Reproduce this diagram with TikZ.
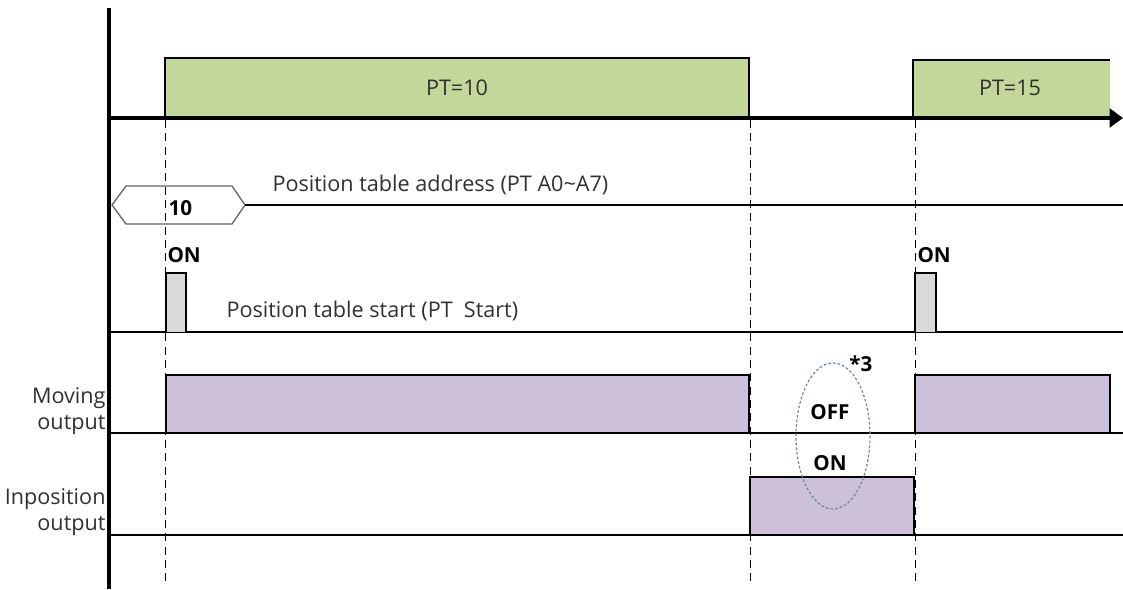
\documentclass[tikz,border=0pt]{standalone}
\usepackage{fontspec}
\setmainfont{Open Sans}
\usetikzlibrary{arrows.meta,positioning}
\definecolor{ptgreen}{HTML}{C4D79B}
\definecolor{outlilac}{HTML}{CCC0DA}
\definecolor{pulsegray}{HTML}{D9D9D9}
\definecolor{notecol}{HTML}{7086A6}
\definecolor{labcol}{HTML}{303030}
\tikzset{
  every picture/.style={line width=0.75pt},
  axisline/.style={line width=2.3pt},
  sigline/.style={line width=1.5pt},
  guide/.style={dashed,line width=0.75pt,dash pattern=on 6pt off 4pt},
  lab/.style={text=labcol,font=\fontsize{16.2}{19.5}\selectfont,inner sep=0pt},
  boldlab/.style={text=black,font=\bfseries\fontsize{15.5}{18}\selectfont,inner sep=0pt}
}

\begin{document}
\begin{tikzpicture}[x=0.75pt,y=-0.75pt]
    \useasboundingbox (0,0) rectangle (1123,589);

    % Position table boxes (PT)
    \fill[ptgreen] (165,58) rectangle (749,118);
    \draw[sigline] (165,118) -- (165,58) -- (749,58) -- (749,118);
    \node[lab] (pt10) at (457,88) {PT=10};
    \fill[ptgreen] (913,60) rectangle (1110,118);
    \draw[sigline] (913,118) -- (913,60) -- (1110,60);
    \node[lab] (pt15) at (1010,88) {PT=15};

    % Axes
    \draw[axisline] (109,8) -- (109,589);
    \draw[axisline,-{Triangle[length=10pt,width=14pt]}] (109,118) -- (1123,118);

    % Guide lines
    \foreach \gx in {165,750,915}
        \draw[guide] (\gx,120) -- (\gx,585);

    % Position table address
    \draw[gray!80!black,line width=1pt] (112,205) -- (126,186) -- (232,186) -- (245,205)
        -- (232,224) -- (126,224) -- cycle;
    \draw[sigline,line width=1pt] (245,205) -- (1123,205);
    \node[boldlab,anchor=west] (addr) at (168,208) {10};
    \node[lab,anchor=west] (addrlab) at (272,185) {Position table address (PT A0\textasciitilde A7)};

    % Position table start
    \draw[sigline] (109,332) -- (1123,332);
    \filldraw[fill=pulsegray,sigline] (166,332) -- (166,273) -- (186,273) -- (186,332);
    \filldraw[fill=pulsegray,sigline] (915,332) -- (915,273) -- (936,273) -- (936,332);
    \node[boldlab,anchor=west] (on1) at (167,255) {ON};
    \node[boldlab,anchor=west] (on2) at (917,255) {ON};
    \node[lab,anchor=west] (startlab) at (226,311) {Position table start (PT~~Start)};

    % Moving output
    \fill[outlilac] (166,375) rectangle (749,433);
    \fill[outlilac] (915,375) rectangle (1110,433);
    \draw[sigline] (166,433) -- (166,375) -- (749,375) -- (749,433);
    \draw[sigline] (915,433) -- (915,375) -- (1110,375) -- (1110,433);
    \draw[sigline] (109,433) -- (1123,433);
    \node[lab,anchor=east,align=right] (movlab) at (106,411) {Moving\\output};

    % Inposition output
    \filldraw[fill=outlilac,sigline] (750,535) -- (750,477) -- (914,477) -- (914,535);
    \draw[sigline] (109,535) -- (1123,535);
    \node[lab,anchor=east,align=right] (inplab) at (106,512) {Inposition\\output};

    % Note *3
    \draw[notecol,dashed,line width=0.9pt,dash pattern=on 2pt off 1.5pt] (833,436) ellipse (37 and 73);
    \node[boldlab] (off) at (830,412) {OFF};
    \node[boldlab] (on3) at (830,463) {ON};
    \node[boldlab] (note) at (861,364) {*3};
\end{tikzpicture}
\end{document}
